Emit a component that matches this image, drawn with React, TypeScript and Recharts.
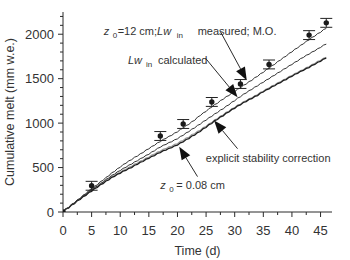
import React from 'react';
import {
  ComposedChart,
  Line,
  Scatter,
  ErrorBar,
  XAxis,
  YAxis,
  ReferenceLine,
  ReferenceDot,
  Label,
} from 'recharts';

// Cumulative melt: measured stake points + model runs (half-day readings)

const days = [
  0, 0.5, 1, 1.5, 2, 2.5, 3, 3.5, 4, 4.5, 5, 5.5, 6, 6.5, 7, 7.5, 8, 8.5, 9, 9.5, 10, 10.5, 11, 11.5,
  12, 12.5, 13, 13.5, 14, 14.5, 15, 15.5, 16, 16.5, 17, 17.5, 18, 18.5, 19, 19.5, 20, 20.5, 21, 21.5,
  22, 22.5, 23, 23.5, 24, 24.5, 25, 25.5, 26, 26.5, 27, 27.5, 28, 28.5, 29, 29.5, 30, 30.5, 31, 31.5,
  32, 32.5, 33, 33.5, 34, 34.5, 35, 35.5, 36, 36.5, 37, 37.5, 38, 38.5, 39, 39.5, 40, 40.5, 41, 41.5,
  42, 42.5, 43, 43.5, 44, 44.5, 45, 45.5, 46,
];

// z0 = 12 cm; Lw_in measured; M.O.
const lwMeasured = [
  0, 38, 50, 88, 102, 138, 153, 190, 205, 242, 258, 290, 305, 342, 355, 390, 405, 442, 455, 488,
  502, 535, 548, 576, 588, 617, 628, 656, 668, 698, 710, 738, 750, 779, 790, 817, 828, 852, 862, 889,
  900, 930, 942, 973, 985, 1017, 1030, 1068, 1085, 1116, 1130, 1164, 1178, 1210, 1222, 1255, 1268,
  1298, 1310, 1340, 1352, 1383, 1395, 1426, 1438, 1468, 1480, 1512, 1525, 1557, 1570, 1602, 1615,
  1647, 1660, 1694, 1708, 1739, 1752, 1786, 1800, 1832, 1845, 1877, 1890, 1922, 1935, 1965, 1978,
  2008, 2020, 2052, 2065,
];

// Lw_in calculated
const lwCalculated = [
  0, 35, 47, 84, 96, 132, 145, 181, 195, 230, 243, 278, 290, 322, 335, 368, 382, 413, 425, 453,
  465, 491, 502, 528, 538, 564, 575, 601, 612, 638, 648, 676, 688, 716, 728, 751, 760, 782, 790, 813,
  822, 850, 862, 891, 903, 933, 945, 975, 988, 1019, 1032, 1062, 1075, 1105, 1118, 1148, 1160, 1191,
  1205, 1237, 1250, 1282, 1295, 1325, 1338, 1366, 1378, 1406, 1418, 1446, 1458, 1486, 1498, 1526,
  1538, 1566, 1578, 1606, 1618, 1646, 1658, 1686, 1698, 1726, 1738, 1764, 1775, 1801, 1812, 1838,
  1850, 1877, 1888,
];

// explicit stability correction
const stabilityCorr = [
  0, 34, 46, 81, 93, 128, 140, 174, 186, 220, 232, 264, 275, 307, 318, 349, 360, 390, 400, 426,
  435, 460, 468, 492, 500, 526, 535, 560, 568, 594, 602, 627, 635, 660, 668, 690, 697, 717, 724, 745,
  752, 779, 788, 816, 826, 855, 865, 894, 905, 938, 950, 983, 995, 1028, 1040, 1071, 1082, 1113,
  1125, 1154, 1165, 1194, 1205, 1232, 1242, 1266, 1275, 1300, 1310, 1339, 1350, 1375, 1385, 1410,
  1420, 1445, 1455, 1480, 1490, 1515, 1525, 1550, 1560, 1583, 1592, 1616, 1625, 1650, 1660, 1685,
  1695, 1720, 1730,
];

// z0 = 0.08 cm
const z0Small = [
  0, 36, 48, 84, 96, 131, 144, 178, 191, 225, 238, 270, 282, 314, 326, 357, 369, 399, 410, 436,
  446, 471, 480, 504, 513, 539, 549, 574, 583, 608, 617, 642, 651, 676, 684, 706, 713, 733, 740, 761,
  768, 795, 804, 832, 842, 871, 880, 908, 918, 950, 962, 994, 1006, 1038, 1050, 1081, 1092, 1122,
  1134, 1163, 1174, 1203, 1213, 1240, 1250, 1274, 1284, 1309, 1319, 1348, 1359, 1384, 1394, 1419,
  1429, 1454, 1464, 1489, 1499, 1524, 1534, 1559, 1569, 1592, 1601, 1625, 1635, 1660, 1670, 1695,
  1705, 1730, 1741,
];

const obsDays = [0, 5, 17, 21, 26, 31, 36, 43, 46];
const obsMelt = [0, 295, 855, 990, 1238, 1440, 1660, 1990, 2128];
const obsErr = [0, 50, 50, 50, 50, 50, 50, 50, 50];

const xTicks = [0, 2.5, 5, 7.5, 10, 12.5, 15, 17.5, 20, 22.5, 25, 27.5, 30, 32.5, 35, 37.5, 40, 42.5, 45];
const yTicks = [
  0, 100, 200, 300, 400, 500, 600, 700, 800, 900, 1000, 1100, 1200, 1300, 1400, 1500, 1600, 1700,
  1800, 1900, 2000, 2100, 2200,
];

const rows = days.map((d, i) => ({
  day: d,
  measured: lwMeasured[i],
  calculated: lwCalculated[i],
  stability: stabilityCorr[i],
  z0small: z0Small[i],
}));

const obs = obsDays.map((d, i) => ({ day: d, melt: obsMelt[i], err: obsErr[i] }));

// arrows: label end -> tip, in data units
const arrows = [
  { x1: 27.5, y1: 2030, x2: 32.1, y2: 1482 },
  { x1: 24.9, y1: 1730, x2: 30.5, y2: 1292 },
  { x1: 30.5, y1: 712, x2: 26.4, y2: 1030 },
  { x1: 23.5, y1: 398, x2: 20.3, y2: 735 },
];

const INK = '#2a2a2a';
const FONT = '"Liberation Sans", Arial, sans-serif';

const isMajor = (v: number, step: number) => Math.abs(v / step - Math.round(v / step)) < 1e-6;

const BottomTick = (p: any) => {
  const v = p.payload.value;
  const major = isMajor(v, 5);
  const len = major ? 5 : 3;
  return (
    <g>
      <line x1={p.x} x2={p.x} y1={p.y} y2={p.y + len} stroke={INK} />
      {major && (
        <text x={p.x} y={p.y + 18} textAnchor="middle" dominantBaseline="central" fontSize={13} fill="#333" fontFamily={FONT}>
          {v}
        </text>
      )}
    </g>
  );
};

const TopTick = (p: any) => {
  const len = isMajor(p.payload.value, 5) ? 5 : 3;
  return <line x1={p.x} x2={p.x} y1={p.y} y2={p.y - len} stroke={INK} />;
};

const LeftTick = (p: any) => {
  const v = p.payload.value;
  const major = isMajor(v, 500);
  const len = major ? 5 : 3;
  return (
    <g>
      <line x1={p.x} x2={p.x - len} y1={p.y} y2={p.y} stroke={INK} />
      {major && (
        <text x={p.x - 9} y={p.y} textAnchor="end" dominantBaseline="central" fontSize={13} fill="#333" fontFamily={FONT}>
          {v}
        </text>
      )}
    </g>
  );
};

const RightTick = (p: any) => {
  const len = isMajor(p.payload.value, 500) ? 5 : 3;
  return <line x1={p.x} x2={p.x + len} y1={p.y} y2={p.y} stroke={INK} />;
};

const YTitle = (props: any) => {
  const vb = props.viewBox || { x: 0, y: 12, width: 63, height: 200 };
  const cx = vb.x + 10;
  const cy = vb.y + vb.height / 2;
  return (
    <text x={cx} y={cy} transform={`rotate(-90 ${cx} ${cy})`} textAnchor="middle" dominantBaseline="central" fontSize={12.5} fill="#333" fontFamily={FONT}>
      Cumulative melt (mm w.e.)
    </text>
  );
};

const XTitle = (props: any) => {
  const vb = props.viewBox || { x: 63, y: 212, width: 269, height: 48 };
  return (
    <text x={vb.x + vb.width / 2} y={vb.y + 39} textAnchor="middle" dominantBaseline="central" fontSize={12.5} fill="#333" fontFamily={FONT}>
      Time (d)
    </text>
  );
};

const Arrow = (p: any) => {
  const { x1, y1, x2, y2 } = p;
  const dx = x2 - x1;
  const dy = y2 - y1;
  const d = Math.sqrt(dx * dx + dy * dy) || 1;
  const ux = dx / d;
  const uy = dy / d;
  const hl = 13;
  const hw = 5;
  const bx = x2 - ux * hl;
  const by = y2 - uy * hl;
  return (
    <g>
      <line x1={x1} y1={y1} x2={bx} y2={by} stroke={INK} strokeWidth={1} />
      <polygon
        points={`${x2},${y2} ${bx - uy * hw},${by + ux * hw} ${bx + uy * hw},${by - ux * hw}`}
        fill="#111"
      />
    </g>
  );
};

const txt = { fontSize: 11, fill: '#333', fontFamily: FONT } as const;

const LabelMeasured = (p: any) => (
  <text x={p.cx} y={p.cy} {...txt}>
    <tspan fontStyle="italic">z</tspan>
    <tspan x={p.cx + 9} dy={3} fontSize={8}>0</tspan>
    <tspan x={p.cx + 14} dy={-3}>=12 cm;</tspan>
    <tspan fontStyle="italic">Lw</tspan>
    <tspan x={p.cx + 73} dy={3} fontSize={8}>in</tspan>
    <tspan x={p.cx + 94} dy={-3}>measured; M.O.</tspan>
  </text>
);

const LabelCalculated = (p: any) => (
  <text x={p.cx} y={p.cy} {...txt}>
    <tspan fontStyle="italic">Lw</tspan>
    <tspan x={p.cx + 18} dy={3} fontSize={8}>in</tspan>
    <tspan x={p.cx + 30} dy={-3}>calculated</tspan>
  </text>
);

const LabelStability = (p: any) => (
  <text x={p.cx} y={p.cy} {...txt}>explicit stability correction</text>
);

const LabelZ0 = (p: any) => (
  <text x={p.cx} y={p.cy} {...txt}>
    <tspan fontStyle="italic">z</tspan>
    <tspan x={p.cx + 9} dy={3} fontSize={8}>0</tspan>
    <tspan x={p.cx + 16} dy={-3}>= 0.08 cm</tspan>
  </text>
);

export default function App() {
  return (
    <div style={{ position: 'absolute', left: 0, top: 0, background: '#fff' }}>
      <ComposedChart width={350} height={260} data={rows} margin={{ top: 12, right: 18, bottom: 0, left: 0 }}>
        <XAxis
          dataKey="day"
          type="number"
          domain={[0, 47]}
          ticks={xTicks}
          interval={0}
          allowDataOverflow
          tickLine={false}
          tickSize={0}
          tickMargin={0}
          tick={<BottomTick />}
          height={48}
          axisLine={{ stroke: INK }}
          label={<Label content={<XTitle />} />}
        />
        <XAxis
          xAxisId="top"
          orientation="top"
          dataKey="day"
          type="number"
          domain={[0, 47]}
          ticks={xTicks}
          interval={0}
          allowDataOverflow
          tickLine={false}
          tickSize={0}
          tickMargin={0}
          tick={<TopTick />}
          height={0}
          axisLine={{ stroke: INK }}
        />
        <YAxis
          type="number"
          domain={[0, 2250]}
          ticks={yTicks}
          interval={0}
          allowDataOverflow
          tickLine={false}
          tickSize={0}
          tickMargin={0}
          tick={<LeftTick />}
          width={63}
          axisLine={{ stroke: INK }}
          label={<Label content={<YTitle />} />}
        />
        <YAxis
          yAxisId="right"
          orientation="right"
          type="number"
          domain={[0, 2250]}
          ticks={yTicks}
          interval={0}
          allowDataOverflow
          tickLine={false}
          tickSize={0}
          tickMargin={0}
          tick={<RightTick />}
          width={0}
          axisLine={{ stroke: INK }}
        />

        <Line dataKey="z0small" stroke="#9a9a9a" strokeWidth={1.1} dot={false} isAnimationActive={false} />
        <Line dataKey="stability" stroke="#1e1e1e" strokeWidth={1.3} dot={false} isAnimationActive={false} />
        <Line dataKey="calculated" stroke="#333" strokeWidth={1} dot={false} isAnimationActive={false} />
        <Line dataKey="measured" stroke="#333" strokeWidth={1} dot={false} isAnimationActive={false} />

        <Scatter
          data={obs}
          dataKey="melt"
          shape={(p: any) => <circle cx={p.cx} cy={p.cy} r={2.7} fill="#1a1a1a" />}
          isAnimationActive={false}
        >
          <ErrorBar dataKey="err" direction="y" width={6} stroke="#222" strokeWidth={1} />
        </Scatter>

        {arrows.map((a, i) => (
          <ReferenceLine
            key={i}
            segment={[{ x: a.x1, y: a.y1 }, { x: a.x2, y: a.y2 }]}
            ifOverflow="visible"
            shape={(p: any) => <Arrow {...p} />}
          />
        ))}

        <ReferenceDot x={7.1} y={1990} r={1} ifOverflow="visible" shape={(p: any) => <LabelMeasured {...p} />} />
        <ReferenceDot x={11.35} y={1665} r={1} ifOverflow="visible" shape={(p: any) => <LabelCalculated {...p} />} />
        <ReferenceDot x={24.95} y={560} r={1} ifOverflow="visible" shape={(p: any) => <LabelStability {...p} />} />
        <ReferenceDot x={17.0} y={255} r={1} ifOverflow="visible" shape={(p: any) => <LabelZ0 {...p} />} />
      </ComposedChart>
    </div>
  );
}
